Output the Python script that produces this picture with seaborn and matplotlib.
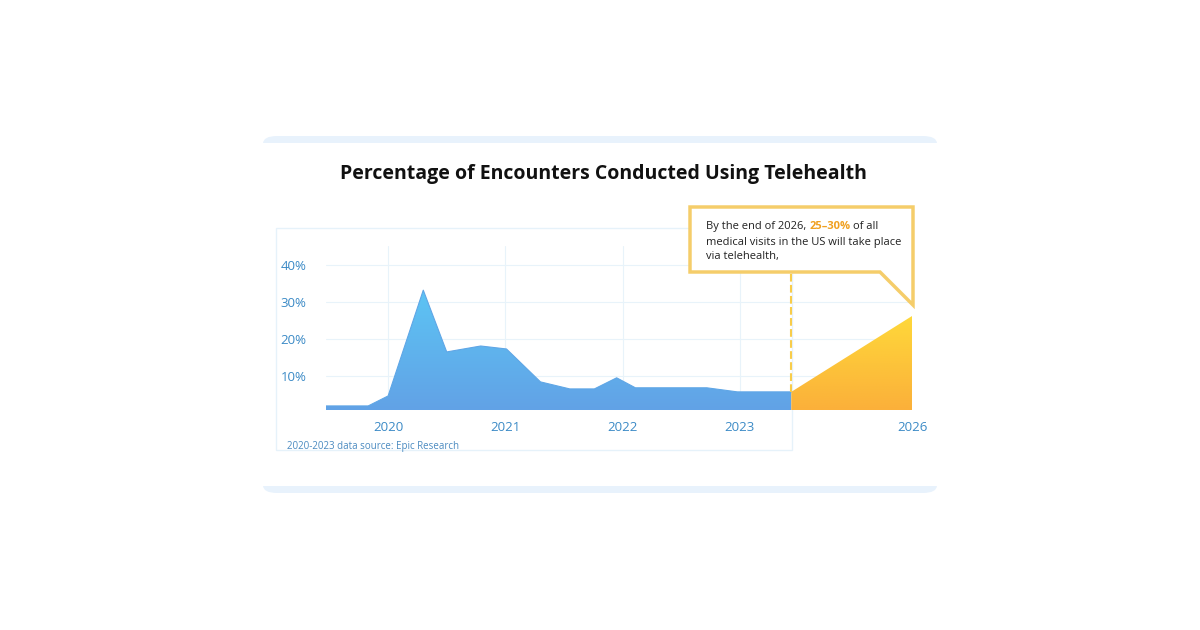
import matplotlib
matplotlib.use("Agg")
import matplotlib.pyplot as plt
import seaborn as sns
import numpy as np
from matplotlib.patches import FancyBboxPatch, Polygon, Rectangle
from matplotlib.colors import LinearSegmentedColormap

sns.set_theme(style="white")
plt.rcParams['font.family'] = ['Open Sans', 'DejaVu Sans']

years = [2019.47, 2019.83, 2020.0, 2020.30, 2020.50, 2020.79, 2021.01, 2021.30, 2021.55,
         2021.76, 2021.95, 2022.11, 2022.72, 2022.98, 2023.44]
share = [1.9, 1.9, 4.6, 33.2, 16.5, 18.1, 17.3, 8.4, 6.5, 6.5, 9.5, 6.8, 6.8, 5.7, 5.7]
proj_x = [2023.44, 2024.47]
proj_y = [5.7, 26.2]
xtick_pos = [2020, 2021, 2022, 2023, 2024.47]
xtick_labels = ["2020", "2021", "2022", "2023", "2026"]
ytick_vals = [10, 20, 30, 40]
ytick_labels = ["10%", "20%", "30%", "40%"]

fig = plt.figure(figsize=(12, 6.3), dpi=100)
fig.patch.set_facecolor("white")
card = FancyBboxPatch((263/1200, 1-493/630), 674/1200, 357/630,
                      boxstyle="round,pad=0,rounding_size=0.012", transform=fig.transFigure,
                      facecolor="#e8f2fc", edgecolor="none", zorder=-6)
fig.patches.append(card)
inner = Rectangle((263/1200, 1-486/630), 674/1200, 343/630, transform=fig.transFigure,
                  facecolor="white", edgecolor="none", zorder=-5)
fig.patches.append(inner)
fig.patches.append(Rectangle((276/1200, 1-450/630), 516/1200, 222/630, transform=fig.transFigure,
                             facecolor="none", edgecolor="#e6f2fa", linewidth=1, zorder=-4))
fig.text(0.503, 1-174/630, "Percentage of Encounters Conducted Using Telehealth",
         ha="center", va="center", fontsize=14, fontweight="bold", color="#111111")

ymin, ymax = 0.8, 45
ax = fig.add_axes([326/1200, 1-410/630, (912-326)/1200, (410-246.5)/630])
ax.set_zorder(1)
ax.patch.set_alpha(0)
for s in ax.spines.values():
    s.set_visible(False)

sns.lineplot(x=years, y=share, ax=ax, color="#5fa6e6", linewidth=0.8)
grad = np.linspace(0, 1, 256).reshape(-1, 1)
bcm = LinearSegmentedColormap.from_list("b", ["#62a2e6", "#5cc4f4"])
ycm = LinearSegmentedColormap.from_list("y", ["#fbb03a", "#ffd83a"])

bpoly = Polygon(list(zip(years, share)) + [(years[-1], ymin), (years[0], ymin)], closed=True,
                facecolor="none", edgecolor="none", transform=ax.transData)
ax.add_patch(bpoly)
im = ax.imshow(grad, cmap=bcm, aspect="auto", origin="lower",
               extent=[years[0], years[-1], ymin, max(share)], zorder=1)
im.set_clip_path(bpoly)
ypoly = Polygon(list(zip(proj_x, proj_y)) + [(proj_x[-1], ymin), (proj_x[0], ymin)], closed=True,
                facecolor="none", edgecolor="none", transform=ax.transData)
ax.add_patch(ypoly)
im2 = ax.imshow(grad, cmap=ycm, aspect="auto", origin="lower",
                extent=[proj_x[0], proj_x[1], ymin, max(proj_y)], zorder=1)
im2.set_clip_path(ypoly)
ax.set_xlim(years[0], proj_x[-1])
ax.set_ylim(ymin, ymax)

ax.set_yticks(ytick_vals, ytick_labels)
ax.set_xticks(xtick_pos, xtick_labels)
ax.tick_params(length=0, labelsize=9.5, labelcolor="#3b8ac6")
ax.tick_params(axis="y", pad=14)
ax.tick_params(axis="x", pad=8)
for v in ytick_vals:
    ax.axhline(v, color="#e8f3fa", linewidth=0.8, zorder=0)
for v in xtick_pos[:4]:
    ax.axvline(v, color="#e8f3fa", linewidth=0.8, zorder=0)
ax.plot([proj_x[0], proj_x[0]], [proj_y[0], 38], color="#f8cc4a", linestyle="--", linewidth=1.5, zorder=3)

pts = [(690, 207), (913, 207), (913, 305), (880, 272), (690, 272)]
callout = Polygon([(x/1200, 1-y/630) for x, y in pts], closed=True, transform=fig.transFigure,
                  facecolor="white", edgecolor="#f5cd6a", linewidth=2.5, zorder=5)
fig.patches.append(callout)
fs = 8
t1 = fig.text(706/1200, 1-226/630, "By the end of 2026, ", fontsize=fs, color="#222222", va="center", zorder=6)
fig.canvas.draw()
r = fig.canvas.get_renderer()
bb = t1.get_window_extent(r)
t2 = fig.text(bb.x1/1200, 1-226/630, "25–30%", fontsize=fs, color="#f0a020", fontweight="bold", va="center", zorder=6)
bb2 = t2.get_window_extent(r)
fig.text(bb2.x1/1200 + 3/1200, 1-226/630, "of all", fontsize=fs, color="#222222", va="center", zorder=6)
fig.text(706/1200, 1-242/630, "medical visits in the US will take place", fontsize=fs, color="#222222", va="center", zorder=6)
fig.text(706/1200, 1-257/630, "via telehealth,", fontsize=fs, color="#222222", va="center", zorder=6)

fig.text(287/1200, 1-446/630, "2020-2023 data source: Epic Research", fontsize=7, color="#4a8ac0", va="center")

fig.savefig("out.png", dpi=100, facecolor="white")
